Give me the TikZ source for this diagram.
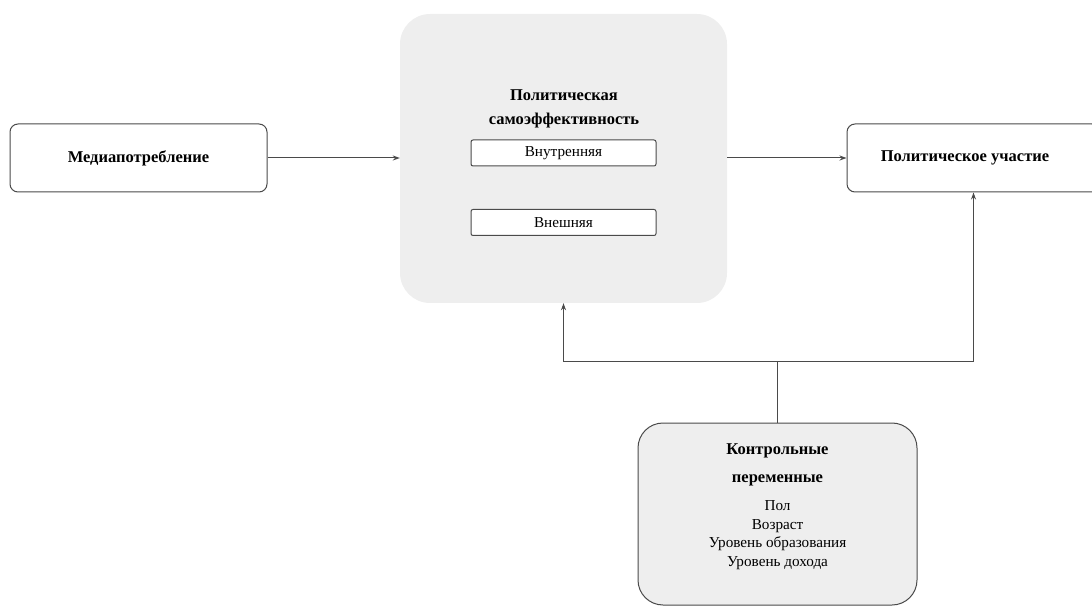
\documentclass[tikz,border=0pt]{standalone}
\usepackage{fontspec}
\setmainfont{Liberation Serif}
\usetikzlibrary{arrows.meta}
\definecolor{boxgray}{HTML}{EEEEEE}
\definecolor{linegray}{HTML}{4A4A4A}
\tikzset{
  x=1pt,y=1pt,
  whitebox/.style={draw=linegray,line width=1pt,fill=white,rounded corners=8pt,inner sep=0pt},
  smallbox/.style={draw=linegray,line width=1pt,fill=white,rounded corners=2pt,inner sep=0pt,minimum width=185pt,minimum height=26pt,font=\fontsize{15.2}{17}\selectfont},
  graybox/.style={fill=boxgray,rounded corners=30pt,inner sep=0pt},
  ctrlbox/.style={draw=linegray,line width=1pt,fill=boxgray,rounded corners=25pt,inner sep=0pt},
  boldtxt/.style={font=\fontsize{16.5}{24}\selectfont\bfseries,align=center},
  regtxt/.style={font=\fontsize{15.2}{18.5}\selectfont,align=center},
  conn/.style={draw=linegray,line width=1pt,-{Stealth[length=7pt,width=5pt]}},
  plain/.style={draw=linegray,line width=1pt}
}
\begin{document}
\begin{tikzpicture}
\useasboundingbox (0,0) rectangle (1092,614);
% media
\node[whitebox,minimum width=257pt,minimum height=68pt,font=\fontsize{16.5}{18}\selectfont\bfseries] (media) at (138.5,456) {Медиапотребление};
% self-efficacy
\node[graybox,minimum width=327pt,minimum height=289pt] (se) at (563.5,455.5) {};
\node[boldtxt] (setitle) at (564,505) {Политическая\\самоэффективность};
\node[smallbox] (inner) at (563.5,461) {Внутренняя};
\node[smallbox] (outer) at (563.5,391.5) {Внешняя};
% participation
\node[whitebox,minimum width=253pt,minimum height=68pt] (pu) at (973.5,456) {};
\node[font=\fontsize{16.5}{18}\selectfont\bfseries] (pulabel) at (965,456) {Политическое участие};
% control
\node[ctrlbox,minimum width=279pt,minimum height=182pt] (ctrl) at (777.5,100) {};
\node[boldtxt,font=\fontsize{16.5}{28}\selectfont\bfseries] (ctrltitle) at (777.5,149) {Контрольные\\переменные};
\node[regtxt] (ctrllist) at (777.5,79) {Пол\\Возраст\\Уровень образования\\Уровень дохода};
% connectors
\draw[conn] (media.east) -- (media.east -| se.west);
\draw[conn] (se.east |- pu.west) -- (pu.west);
\coordinate (j) at (777.5,253);
\draw[plain] (ctrl.north) -- (j);
\draw[conn] (j) -| (se.south);
\draw[conn] (j) -| (pu.south);
\end{tikzpicture}
\end{document}
